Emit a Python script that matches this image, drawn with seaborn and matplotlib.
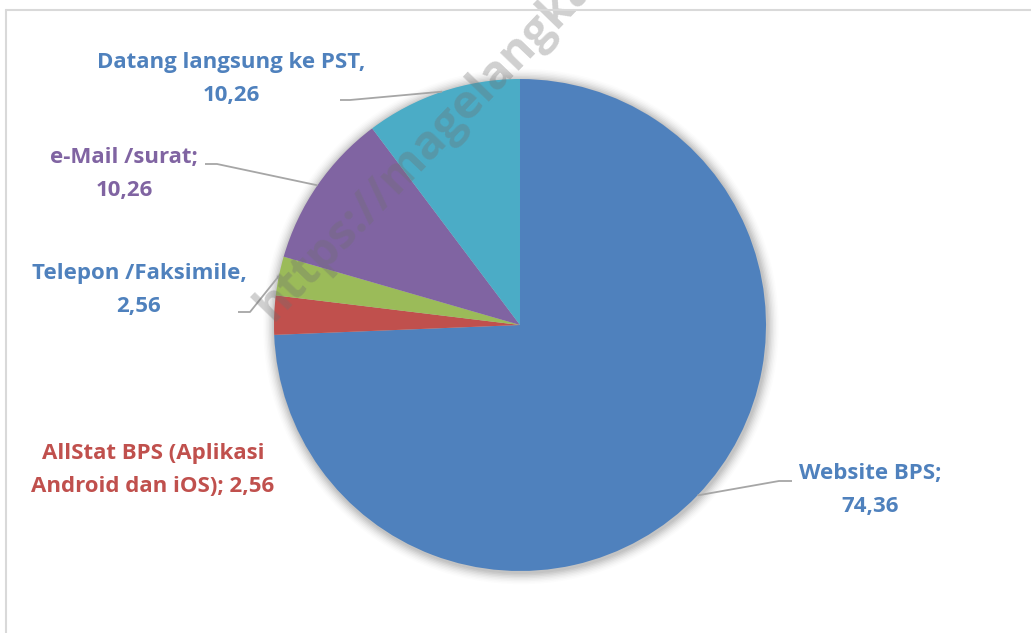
import numpy as np
import matplotlib
matplotlib.use("Agg")
import matplotlib.pyplot as plt
import seaborn as sns

# ── Data ──────────────────────────────────────────────────────────────────────
categories = ["Website BPS", "AllStat BPS (Aplikasi\nAndroid dan iOS)",
              "Telepon /Faksimile", "e-Mail /surat", "Datang langsung ke PST"]
values = [74.36, 2.56, 2.56, 10.26, 10.26]
label_text = ["Website BPS;\n74,36",
              "AllStat BPS (Aplikasi\nAndroid dan iOS); 2,56",
              "Telepon /Faksimile,\n2,56",
              "e-Mail /surat;\n10,26",
              "Datang langsung ke PST,\n10,26"]

slice_colors = ["#4F81BD", "#C0504D", "#9BBB59", "#8064A2", "#4BACC6"]
text_colors = ["#4F81BD", "#C0504D", "#4F81BD", "#8064A2", "#4F81BD"]

# ── Layout (pixels) ───────────────────────────────────────────────────────────
W, H = 1031, 633
CX, CY, R = 520, 325, 246
label_pos = [(870, 490), (153, 470), (139, 290), (124, 174), (231, 79)]
# leader: start of the stub next to the label, end of the short horizontal stub
leader_stub = [((792, 481), (779, 481)), None, ((238, 312), (250, 312)),
               ((205, 164), (217, 164)), ((340, 100), (350, 100))]


def px(x, y):
    return (x - CX) / R, (CY - y) / R


sns.set_theme(style="white")
plt.rcParams["font.family"] = ["Open Sans", "DejaVu Sans"]

fig = plt.figure(figsize=(W / 100, H / 100), dpi=100)
ax = fig.add_axes([0, 0, 1, 1])

# soft shadow behind the pie
for i, a in enumerate(np.linspace(0.05, 0.012, 8)):
    ax.add_patch(plt.Circle((0.004, -0.006), 1.0 + 0.006 * (i + 1),
                            color="black", alpha=a, lw=0, zorder=0))

wedges, _ = ax.pie(values, colors=slice_colors, startangle=90,
                   counterclock=False, radius=1.0,
                   wedgeprops=dict(linewidth=0, zorder=1))

ax.set_xlim(-CX / R, (W - CX) / R)
ax.set_ylim(-(H - CY) / R, CY / R)
ax.set_aspect("equal")
ax.axis("off")

for w, txt, col, pos, stub in zip(wedges, label_text, text_colors,
                                  label_pos, leader_stub):
    x, y = px(*pos)
    ax.text(x, y, txt, ha="center", va="center", color=col, fontsize=16,
            fontweight="bold", linespacing=1.78, zorder=5)
    if stub is not None:
        mid = np.deg2rad((w.theta1 + w.theta2) / 2)
        rx, ry = np.cos(mid), np.sin(mid)
        (x0, y0), (x1, y1) = px(*stub[0]), px(*stub[1])
        ax.plot([x0, x1, rx], [y0, y1, ry], color="#A6A6A6", lw=1.3,
                solid_capstyle="butt", zorder=4)

# watermark (runs off the top edge as in the original)
wx, wy = px(272, 322)
ax.text(wx, wy, "https://magelangka", rotation=46,
        rotation_mode="anchor", ha="left", va="baseline", fontsize=34,
        fontweight="bold", color="#6f6f6f", alpha=0.33, zorder=6)

# chart frame (top and left edges visible)
fig.add_artist(plt.Line2D([6 / W, 1.0], [1 - 10 / H, 1 - 10 / H],
                          color="#D9D9D9", lw=1.5))
fig.add_artist(plt.Line2D([6 / W, 6 / W], [0, 1 - 10 / H],
                          color="#D9D9D9", lw=1.5))

fig.savefig("out.png", dpi=100, facecolor="white")
